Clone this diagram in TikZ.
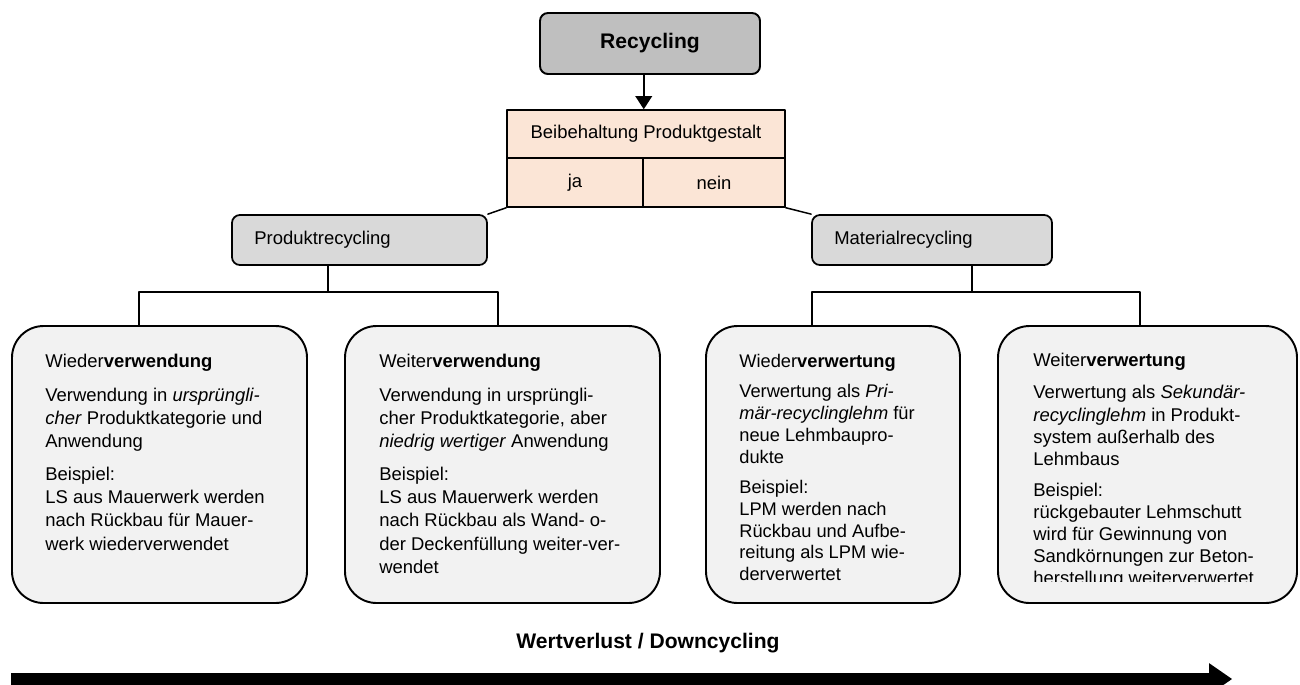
\documentclass[tikz,border=0pt]{standalone}
\usepackage{fontspec}
\setmainfont{Liberation Sans}
\usepackage{pgf,tikz}
\usetikzlibrary{arrows.meta,fit}
\definecolor{recgray}{RGB}{191,191,191}
\definecolor{catgray}{RGB}{217,217,217}
\definecolor{tabpeach}{RGB}{251,229,214}
\definecolor{boxgray}{RGB}{242,242,242}
\tikzset{
  recbox/.style={draw,line width=1.1pt,fill=recgray,rounded corners=4.5pt,inner sep=0pt},
  tabcell/.style={draw,line width=0.85pt,fill=tabpeach,inner sep=0pt},
  catbox/.style={draw,line width=1pt,fill=catgray,rounded corners=4.5pt,inner sep=0pt},
  bigbox/.style={draw,line width=1.1pt,fill=boxgray,rounded corners=18pt,inner sep=0pt},
  boxtext/.style={anchor=north west,inner sep=0pt,align=left},
  link/.style={line width=0.85pt}
}

\begin{document}
\begin{tikzpicture}[line cap=round,line join=round,x=0.02cm,y=-0.02cm,font=\fontsize{10.5}{13.3}\selectfont]
\useasboundingbox (0,0) rectangle (1300,684);
\clip (0,0) rectangle (1300,684);
\node[recbox,fit={(540,13) (760,74)},label={[font=\fontsize{12}{14}\selectfont\bfseries,name=reclabel]center:Recycling}] (rec) {};
\node[tabcell,fit={(507,110) (785,158)},label={[name=headlabel]center:Beibehaltung Produktgestalt}] (head) {};
\node[tabcell,fit={(507,158) (643,207)},label={[name=jalabel]center:ja}] (ja) {};
\node[tabcell,fit={(643,158) (785,207)},label={[name=neinlabel]center:nein}] (nein) {};
\draw[link,-{Triangle[length=7.5pt,width=9.5pt]}] (rec.south -| ja.east) -- (head.north -| ja.east);
\node[catbox,fit={(232,215) (487,265)}] (prod) {};
\node[anchor=west,inner sep=0pt] (prodlabel) at ([xshift=13pt]prod.west) {Produktrecycling};
\node[catbox,fit={(812,215) (1052,265)}] (mat) {};
\node[anchor=west,inner sep=0pt] (matlabel) at ([xshift=13pt]mat.west) {Materialrecycling};
\draw[link] (ja.south west) -- (prod.north east);
\draw[link] (nein.south east) -- (mat.north west);
\node[bigbox,fit={(12,326) (307,603)}] (wv1) {};
\node[bigbox,fit={(345,326) (660,603)}] (wv2) {};
\node[bigbox,fit={(706,326) (960,603)}] (wt1) {};
\node[bigbox,fit={(998,326) (1297,603)}] (wt2) {};
\coordinate (pj) at (328,292);
\coordinate (pb1) at (139,292);
\coordinate (pb2) at (498,292);
\coordinate (mj) at (972,292);
\coordinate (mb1) at (812,292);
\coordinate (mb2) at (1140,292);
\draw[link] (pj |- prod.south) -- (pj);
\draw[link] (pb1 |- wv1.north) -- (pb1) -- (pb2) -- (pb2 |- wv2.north);
\draw[link] (mj |- mat.south) -- (mj);
\draw[link] (mb1 |- wt1.north) -- (mb1) -- (mb2) -- (mb2 |- wt2.north);
\node[boxtext] (wv1text) at (45,353.5) {Wieder\textbf{verwendung}\\[6pt]
Verwendung in \textit{ursprüngli-}\\
\textit{cher} Produktkategorie und\\
Anwendung\\[5pt]
Beispiel:\\
LS aus Mauerwerk werden\\
nach Rückbau für Mauer-\\
werk wiederverwendet};
\node[boxtext] (wv2text) at (379,353.5) {Weiter\textbf{verwendung}\\[6pt]
Verwendung in ursprüngli-\\
cher Produktkategorie, aber\\
\textit{niedrig wertiger} Anwendung\\[5pt]
Beispiel:\\
LS aus Mauerwerk werden\\
nach Rückbau als Wand- o-\\
der Deckenfüllung weiter-ver-\\
wendet};
\node[boxtext,font=\fontsize{10.4}{12.4}\selectfont] (wt1text) at (739,353.5) {Wieder\textbf{verwertung}\\[5pt]
Verwertung als \textit{Pri-}\\
\textit{mär-recyclinglehm} für\\
neue Lehmbaupro-\\
dukte\\[5pt]
Beispiel:\\
LPM werden nach\\
Rückbau und Aufbe-\\
reitung als LPM wie-\\
derverwertet};
\begin{scope}
\clip (998,326) rectangle (1297,581);
\node[boxtext,font=\fontsize{10.5}{12.6}\selectfont] (wt2text) at (1033,352.5) {Weiter\textbf{verwertung}\\[6pt]
Verwertung als \textit{Sekundär-}\\
\textit{recyclinglehm} in Produkt-\\
system außerhalb des\\
Lehmbaus\\[5pt]
Beispiel:\\
rückgebauter Lehmschutt\\
wird für Gewinnung von\\
Sandkörnungen zur Beton-\\
herstellung weiterverwertet};
\end{scope}
\node[font=\fontsize{12}{14}\selectfont\bfseries] (loss) at (648,643) {Wertverlust / Downcycling};
\coordinate (lossstart) at (11,679);
\coordinate (lossend) at (1232,679);
\draw[line width=6.8pt,line cap=butt,-{Triangle[length=13pt,width=18pt,line width=0pt]}] (lossstart) -- (lossend);
\end{tikzpicture}
\end{document}
